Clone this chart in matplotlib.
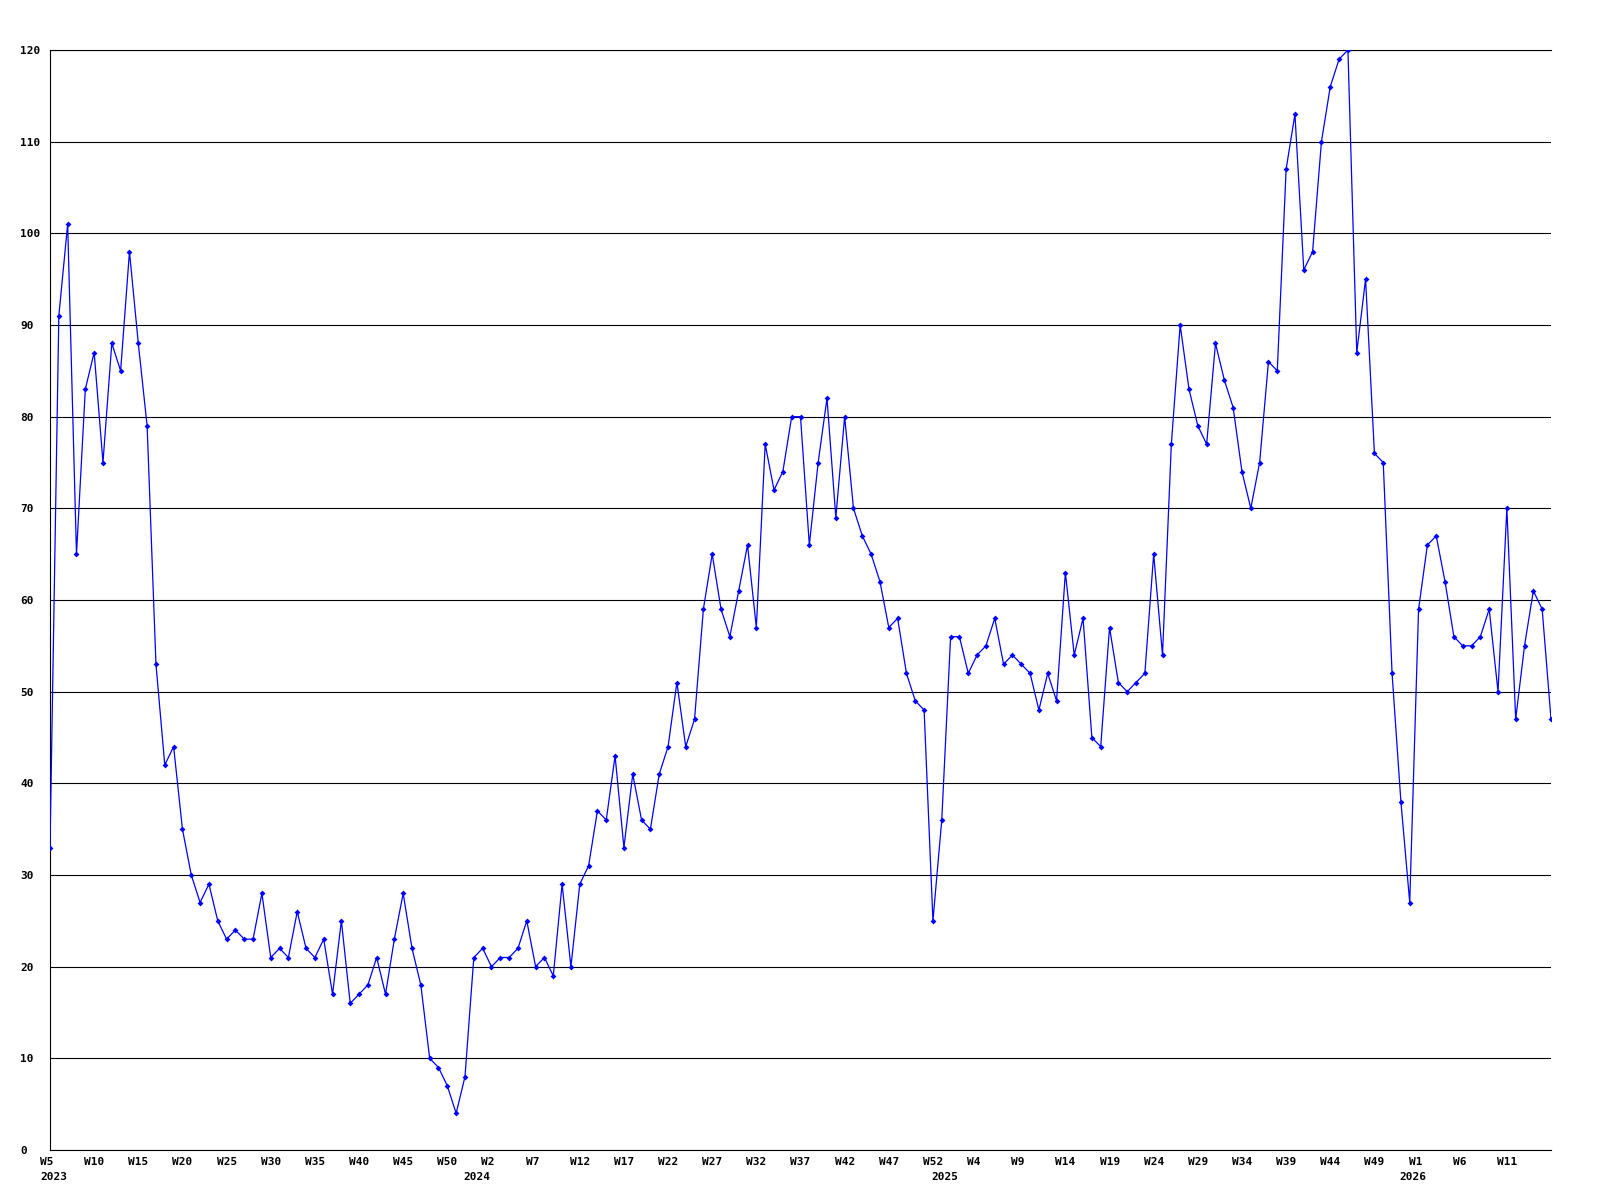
import matplotlib
matplotlib.use('Agg')
import matplotlib.pyplot as plt
import matplotlib.transforms as mtransforms
import numpy as np

# weekly counts, starting 2023 W5 (years are counted with 53 weeks)
counts = [
    # 2023 W5 - W53
    33, 91, 101, 65, 83, 87, 75, 88, 85, 98, 88, 79, 53, 42, 44, 35,
    30, 27, 29, 25, 23, 24, 23, 23, 28, 21, 22, 21, 26, 22, 21, 23,
    17, 25, 16, 17, 18, 21, 17, 23, 28, 22, 18, 10, 9, 7, 4, 8, 21,
    # 2024 W1 - W53
    22, 20, 21, 21, 22, 25, 20, 21, 19, 29, 20, 29, 31, 37, 36, 43,
    33, 41, 36, 35, 41, 44, 51, 44, 47, 59, 65, 59, 56, 61, 66, 57,
    77, 72, 74, 80, 80, 66, 75, 82, 69, 80, 70, 67, 65, 62, 57, 58,
    52, 49, 48, 25, 36,
    # 2025 W1 - W53
    56, 56, 52, 54, 55, 58, 53, 54, 53, 52, 48, 52, 49, 63, 54, 58,
    45, 44, 57, 51, 50, 51, 52, 65, 54, 77, 90, 83, 79, 77, 88, 84,
    81, 74, 70, 75, 86, 85, 107, 113, 96, 98, 110, 116, 119, 120, 87,
    95, 76, 75, 52, 38, 27,
    # 2026 W1 - W16
    59, 66, 67, 62, 56, 55, 55, 56, 59, 50, 70, 47, 55, 61, 59, 47,
]

week_ticks = list(range(0, 166, 5))
week_labels = ['W5', 'W10', 'W15', 'W20', 'W25', 'W30', 'W35', 'W40', 'W45', 'W50',
               'W2', 'W7', 'W12', 'W17', 'W22', 'W27', 'W32', 'W37', 'W42', 'W47', 'W52',
               'W4', 'W9', 'W14', 'W19', 'W24', 'W29', 'W34', 'W39', 'W44', 'W49',
               'W1', 'W6', 'W11']
year_ticks = [0, 48, 101, 154]
year_labels = ['2023', '2024', '2025', '2026']
y_ticks = list(range(0, 121, 10))

font = dict(family='DejaVu Sans Mono', fontweight='bold', fontsize=8)

fig = plt.figure(figsize=(16, 12), dpi=100)
ax = fig.add_axes([50 / 1600, 50 / 1200, 1501 / 1600, 1100 / 1200])

x = np.arange(len(counts))
ax.plot(x, counts, color='#0000ff', lw=0.9, marker='D', ms=3, mew=0, zorder=3)

ax.set_xlim(0, len(counts) - 1)
ax.set_ylim(0, 120)
ax.set_yticks(y_ticks)
ax.grid(axis='y', color='black', lw=0.8)
ax.set_axisbelow(True)
ax.set_xticks([])
ax.tick_params(axis='y', length=0, pad=21.6)
ax.set_yticklabels([str(v) for v in y_ticks], **font)
for lab in ax.get_yticklabels():
    lab.set_horizontalalignment('left')

ax.spines['right'].set_visible(False)
for side in ['left', 'bottom', 'top']:
    ax.spines[side].set_linewidth(0.8)
    ax.spines[side].set_color('black')

wk_tr = mtransforms.offset_copy(ax.get_xaxis_transform(), fig=fig, x=-10, y=-7, units='dots')
for pos, lab in zip(week_ticks, week_labels):
    ax.text(pos, 0, lab, transform=wk_tr, ha='left', va='top', **font)

yr_tr = mtransforms.offset_copy(ax.get_xaxis_transform(), fig=fig, x=-10, y=-22, units='dots')
for pos, lab in zip(year_ticks, year_labels):
    ax.text(pos, 0, lab, transform=yr_tr, ha='left', va='top', **font)

fig.savefig('out.png', dpi=100)
